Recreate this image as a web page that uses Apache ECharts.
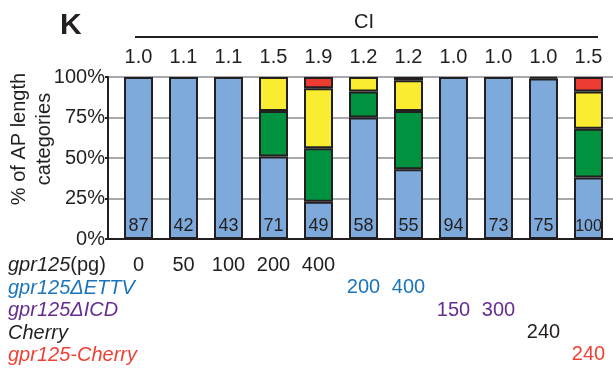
<!DOCTYPE html>
<html><head><meta charset="utf-8">
<script src="https://cdn.jsdelivr.net/npm/echarts@6/dist/echarts.min.js"></script>
<style>html,body{margin:0;padding:0;background:#fff}#c{width:613px;height:370px}</style>
</head><body><div id="c"></div>
<script>
const categories = ['c1','c2','c3','c4','c5','c6','c7','c8','c9','c10','c11'];
const ciLabels = ['1.0','1.1','1.1','1.5','1.9','1.2','1.2','1.0','1.0','1.0','1.5'];
const counts = [87,42,43,71,49,58,55,94,73,75,100];
const blue   = [100,100,100,51,23,75,43,100,100,99,38];
const green  = [0,0,0,28,33,16,36,0,0,1,30];
const yellow = [0,0,0,21,37,9,19,0,0,0,23];
const red    = [0,0,0,0,7,0,2,0,0,0,9];
const yTicks = [0,25,50,75,100];
const rowNames = ['gpr125','gpr125\u0394ETTV','gpr125\u0394ICD','Cherry','gpr125-Cherry'];
const rowColors = ['#231f20','#1b75bc','#662d91','#231f20','#ef4136'];
const row1 = ['0','50','100','200','400','','','','','',''];
const row2 = ['','','','','','200','400','','','',''];
const row3 = ['','','','','','','','150','300','',''];
const row4 = ['','','','','','','','','','240',''];
const row5 = ['','','','','','','','','','','240'];
const rows = [row1,row2,row3,row4,row5];

const FONT = 'Liberation Sans';
const DARK = '#231f20';
const chart = echarts.init(document.getElementById('c'), null, {renderer:'canvas'});

const TOP = 77, BOTTOM = 370-239;
const rowMargins = [16, 38, 61, 83, 105];

const xAxes = [
  {gridIndex:0, type:'value', min:0, max:1, show:true,
   axisLine:{show:true, onZero:false, lineStyle:{color:DARK, width:2}},
   axisTick:{show:false}, axisLabel:{show:false}, splitLine:{show:false}},
  {gridIndex:1, type:'category', data:categories, position:'bottom',
   axisLine:{show:false}, axisTick:{show:false}, axisLabel:{show:false}},
  {gridIndex:1, type:'category', data:categories, position:'top',
   axisLine:{show:false}, axisTick:{show:false},
   axisLabel:{show:true, interval:0, margin:10, fontFamily:FONT, fontSize:20, color:DARK,
     formatter:(v,i)=>ciLabels[i]}}
];
rows.forEach((r,k)=>{
  xAxes.push({gridIndex:1, type:'category', data:categories, position:'bottom',
    axisLine:{show:false}, axisTick:{show:false},
    axisLabel:{show:true, interval:0, margin:rowMargins[k], fontFamily:FONT, fontSize:20,
      color:rowColors[k], formatter:(v,i)=>r[i]}});
});

const segStyle = c => ({color:c, borderColor:DARK, borderWidth:2});
const nz = arr => arr.map(v => v === 0 ? '-' : v);
const mk = (name, data, c, extra) => Object.assign({
  name, type:'bar', xAxisIndex:1, yAxisIndex:1, stack:'s', barWidth:29,
  data:nz(data), itemStyle:segStyle(c), emphasis:{disabled:true}}, extra||{});

chart.setOption({
  animation:false,
  grid:[
    {left:108, right:0, top:TOP, bottom:BOTTOM},
    {left:116, right:2, top:TOP, bottom:BOTTOM}
  ],
  xAxis: xAxes,
  yAxis:[
    {gridIndex:0, type:'value', min:0, max:100, interval:25,
     axisLine:{show:true, lineStyle:{color:DARK, width:2}},
     axisTick:{show:true, length:3, lineStyle:{color:DARK, width:2}},
     axisLabel:{margin:3, fontFamily:FONT, fontSize:20, color:DARK, formatter:v=>v+'%'},
     splitLine:{show:true, lineStyle:{color:'#a7a9ac', width:2}}},
    {gridIndex:1, type:'value', min:0, max:100, show:false, splitLine:{show:false}}
  ],
  series:[
    mk('blue', blue, '#7eaadb', {label:{show:true, position:'insideBottom', distance:4,
      fontFamily:FONT, fontSize:18, color:DARK,
      formatter:p=>counts[p.dataIndex]>=100?'{s|'+counts[p.dataIndex]+'}':String(counts[p.dataIndex]),
      rich:{s:{fontFamily:FONT, fontSize:16, color:DARK}}}}),
    mk('green', green, '#00923f'),
    mk('yellow', yellow, '#f9ec31'),
    mk('red', red, '#ec3b30')
  ],
  graphic:[
    {type:'text', left:60, top:11, style:{text:'K', font:'bold 30px "Liberation Sans"', fill:DARK}},
    {type:'text', x:364, y:22, style:{text:'CI', font:'20px "Liberation Sans"', fill:DARK, align:'center', verticalAlign:'middle'}},
    {type:'line', shape:{x1:135, y1:37, x2:598, y2:37}, style:{stroke:DARK, lineWidth:2}},
    {type:'text', x:32, y:139, rotation:Math.PI/2,
     style:{text:'% of AP length\ncategories', font:'20px "Liberation Sans"', fill:DARK, align:'center', verticalAlign:'middle', lineHeight:25}},
    ...rowNames.map((n,k)=>({type:'text', x:8, y:[265,288,310,333,355][k],
      style:{text: k===0 ? '{i|gpr125}{n|(pg)}' : '{i|'+n+'}', verticalAlign:'middle',
        rich:{i:{font:'italic 20px "Liberation Sans"', fill:rowColors[k]}, n:{font:'20px "Liberation Sans"', fill:rowColors[k]}}}}))
  ]
});
</script></body></html>
